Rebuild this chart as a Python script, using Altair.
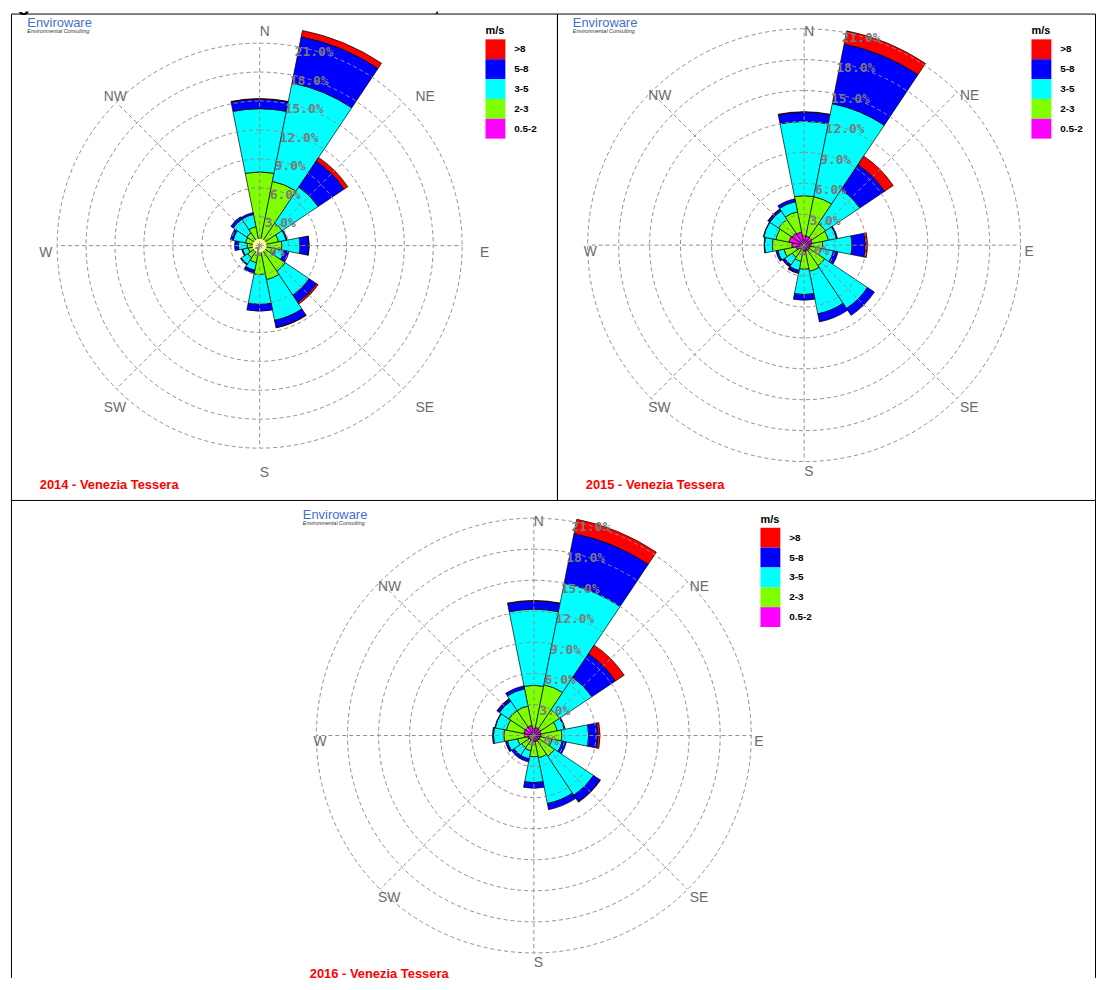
import math
import altair as alt
import pandas as pd

# ---------------- data ----------------
DIRECTIONS = ["N", "NNE", "NE", "ENE", "E", "ESE", "SE", "SSE",
              "S", "SSW", "SW", "WSW", "W", "WNW", "NW", "NNW"]
SPEED_BINS = ["0.5-2", "2-3", "3-5", "5-8", ">8"]          # inner -> outer
LEGEND_ORDER = [">8", "5-8", "3-5", "2-3", "0.5-2"]
BIN_COLORS = ["#ff0000", "#0000ff", "#00ffff", "#80ff00", "#ff00ff"]

# frequency (%) per direction, 2014
F2014_05_2 = [0.5, 0.5, 0.5, 0.5, 0.5, 0.4, 0.5, 0.5, 0.5, 0.4, 0.4, 0.4, 0.4, 0.4, 0.4, 0.4]
F2014_2_3 = [7.15, 6.3, 2.3, 1.5, 1.8, 1.2, 2.7, 3.1, 2.5, 1.4, 1.1, 0.8, 0.9, 1.1, 1.2, 1.6]
F2014_3_5 = [6.55, 10.4, 4.5, 0.8, 1.9, 1.0, 3.0, 4.3, 3.1, 0.8, 0.8, 0.6, 0.9, 1.3, 1.7, 1.3]
F2014_5_8 = [1.0, 4.9, 3.25, 0.1, 0.9, 0.5, 0.9, 0.75, 0.7, 0.3, 0.1, 0.1, 0.4, 0.3, 0.3, 0.2]
F2014_GT8 = [0.05, 0.65, 0.45, 0.0, 0.05, 0.0, 0.2, 0.05, 0.0, 0.0, 0.0, 0.0, 0.0, 0.0, 0.0, 0.0]

# 2015
F2015_05_2 = [0.9, 0.9, 0.9, 0.8, 0.7, 0.6, 0.6, 0.6, 0.6, 0.5, 0.5, 0.8, 1.2, 1.5, 1.4, 1.3]
F2015_2_3 = [3.9, 3.9, 1.6, 1.6, 1.1, 1.1, 1.8, 2.0, 1.75, 1.1, 0.9, 1.2, 1.9, 1.3, 1.6, 2.0]
F2015_3_5 = [7.2, 9.2, 4.0, 0.8, 2.85, 1.2, 5.0, 4.2, 2.45, 0.9, 0.9, 0.6, 0.75, 1.2, 1.0, 1.0]
F2015_5_8 = [0.9, 5.9, 2.9, 0.1, 1.3, 0.45, 0.8, 0.8, 0.55, 0.25, 0.2, 0.2, 0.05, 0.05, 0.2, 0.3]
F2015_GT8 = [0.05, 1.3, 1.0, 0.0, 0.2, 0.0, 0.0, 0.0, 0.0, 0.05, 0.05, 0.0, 0.0, 0.0, 0.05, 0.0]

# 2016
F2016_05_2 = [0.7, 0.8, 0.8, 0.7, 0.7, 0.6, 0.6, 0.6, 0.6, 0.5, 0.5, 0.6, 0.9, 1.0, 1.0, 1.0]
F2016_2_3 = [4.15, 4.2, 2.2, 1.6, 2.0, 1.2, 1.8, 1.6, 1.45, 1.0, 0.9, 1.0, 2.0, 1.7, 1.9, 1.9]
F2016_3_5 = [7.35, 10.0, 3.75, 0.7, 2.6, 1.0, 4.55, 4.5, 2.5, 0.8, 0.9, 1.0, 1.0, 1.1, 1.1, 1.7]
F2016_5_8 = [0.8, 4.9, 2.75, 0.1, 0.9, 0.4, 0.75, 0.6, 0.55, 0.3, 0.3, 0.2, 0.1, 0.05, 0.25, 0.3]
F2016_GT8 = [0.05, 1.4, 1.0, 0.0, 0.2, 0.0, 0.05, 0.0, 0.0, 0.0, 0.0, 0.0, 0.0, 0.0, 0.05, 0.0]

RINGS = [3, 6, 9, 12, 15, 18, 21]
COMPASS = ["N", "NE", "E", "SE", "S", "SW", "W", "NW"]
PANEL_LABELS = ["2014 - Venezia Tessera", "2015 - Venezia Tessera", "2016 - Venezia Tessera"]
LOGO_TEXT = "Enviroware"
LOGO_SUB = "Environmental Consulting"
TITLE_NUM = "Figura 5.1b"
TITLE_TEXT = "Rose dei venti anni 2014, 2015 e 2016 \u2013 Stazione Venezia Tessera"
LEGEND_TITLE = "m/s"
CENTER_LABEL = "1.0%"

# ---------------- helpers ----------------
SECTOR = 360 / len(DIRECTIONS)
COMPASS_DEG = [i * 360 / len(COMPASS) for i in range(len(COMPASS))]
RMAX = RINGS[-1]
GRID = "#8e8e8e"
LABEL_GRAY = "#7a7a7a"
FONT = "Liberation Sans"
W, H = 1096, 974


def frame(bins):
    rows = []
    for i, d in enumerate(DIRECTIONS):
        lo = 0.0
        for name, vals in zip(SPEED_BINS, bins):
            v = vals[i]
            if v > 0:
                rows.append({"dir": d, "idx": i, "bin": name, "freq": v,
                             "lo": round(lo, 4), "hi": round(lo + v, 4)})
            lo += v
    return pd.DataFrame(rows)


def one(**kw):
    return pd.DataFrame({k: [v] for k, v in kw.items()})


def rose(df, cx, cy, R, legend_xy, logo_xy, label_xy, label_text, calm):
    ts = alt.Scale(domain=[0, 360], range=[0, 2 * math.pi], nice=False)
    rs = alt.Scale(type="linear", domain=[0, RMAX], range=[0, R], nice=False)
    xs = alt.Scale(domain=[-RMAX, RMAX], range=[cx - R, cx + R], nice=False, zero=False)
    ys = alt.Scale(domain=[-RMAX, RMAX], range=[cy + R, cy - R], nice=False, zero=False)
    cx_enc = alt.X(datum=0, type="quantitative", scale=xs, axis=None)
    cy_enc = alt.Y(datum=0, type="quantitative", scale=ys, axis=None)

    legend = alt.Legend(
        title=LEGEND_TITLE, orient="none", legendX=legend_xy[0], legendY=legend_xy[1],
        symbolType="square", symbolSize=400, symbolStrokeWidth=0, rowPadding=0,
        padding=0, titlePadding=3, titleFont=FONT, titleFontSize=11,
        titleFontWeight="bold", titleColor="black", labelFont=FONT,
        labelFontSize=10, labelFontWeight="bold", labelColor="black", labelOffset=9,
    )

    arcs = alt.Chart(df).transform_calculate(
        t0=f"datum.idx*{SECTOR}-{SECTOR / 2}",
        t1=f"datum.idx*{SECTOR}+{SECTOR / 2}",
    ).mark_arc(stroke="black", strokeWidth=0.7).encode(
        x=cx_enc, y=cy_enc,
        theta=alt.Theta("t0:Q", scale=ts, stack=False),
        theta2="t1:Q",
        radius=alt.Radius("hi:Q", scale=rs, stack=False),
        radius2="lo:Q",
        color=alt.Color("bin:N", scale=alt.Scale(domain=LEGEND_ORDER, range=BIN_COLORS),
                        legend=legend),
        tooltip=["dir:N", "bin:N", "freq:Q"],
    )

    layers = [arcs]
    if calm:
        layers.append(
            alt.Chart(one(c="calm")).mark_arc(fill="#ffffa0", strokeWidth=0).encode(
                x=cx_enc, y=cy_enc,
                theta=alt.Theta(datum=0, type="quantitative", scale=ts),
                theta2=alt.Theta2(datum=360),
                radius=alt.value(7),
            )
        )

    rings = alt.Chart(pd.DataFrame({"ring": RINGS})).mark_arc(
        fillOpacity=0, stroke=GRID, strokeWidth=1, strokeDash=[4, 3]
    ).encode(
        x=cx_enc, y=cy_enc,
        theta=alt.Theta(datum=0, type="quantitative", scale=ts),
        theta2=alt.Theta2(datum=360),
        radius=alt.Radius("ring:Q", scale=rs, stack=False),
    )

    spokes = alt.Chart(pd.DataFrame({"deg": COMPASS_DEG})).transform_calculate(
        x0="0", y0="0",
        x1=f"{RMAX}*sin(datum.deg*PI/180)",
        y1=f"{RMAX}*cos(datum.deg*PI/180)",
    ).mark_rule(stroke=GRID, strokeWidth=1, strokeDash=[4, 3]).encode(
        x=alt.X("x0:Q", scale=xs, axis=None, stack=False),
        y=alt.Y("y0:Q", scale=ys, axis=None, stack=False),
        x2="x1:Q", y2="y1:Q",
    )

    ring_labels = alt.Chart(pd.DataFrame({"ring": RINGS})).transform_calculate(
        label="format(datum.ring, '.1f') + '%'"
    ).mark_text(align="left", baseline="top", font="DejaVu Sans Mono",
                fontWeight="bold", fontSize=13, color=LABEL_GRAY).encode(
        x=cx_enc, y=cy_enc,
        theta=alt.Theta(datum=10, type="quantitative", scale=ts),
        radius=alt.Radius("ring:Q", scale=rs, stack=False),
        text="label:N",
    )

    center_label = alt.Chart(one(t=CENTER_LABEL)).mark_text(
        align="left", baseline="top", font="DejaVu Sans Mono", fontWeight="bold",
        fontSize=13, color=LABEL_GRAY, dx=-6, dy=0
    ).encode(x=cx_enc, y=cy_enc, text="t:N")

    compass = alt.Chart(pd.DataFrame({"name": COMPASS, "deg": COMPASS_DEG})).mark_text(
        align="left", baseline="top", font=FONT, fontSize=14, color="#6c6c6c"
    ).encode(
        x=cx_enc, y=cy_enc,
        theta=alt.Theta("deg:Q", scale=ts, stack=False),
        radius=alt.value(222),
        text="name:N",
    )

    logo = alt.Chart(one(t=LOGO_TEXT)).mark_text(
        align="left", baseline="alphabetic", font=FONT, fontSize=13, color="#3f6fcf"
    ).encode(x=alt.value(logo_xy[0]), y=alt.value(logo_xy[1]), text="t:N")
    logo_sub = alt.Chart(one(t=LOGO_SUB)).mark_text(
        align="left", baseline="alphabetic", font=FONT, fontSize=5.5,
        fontStyle="italic", color="#333333"
    ).encode(x=alt.value(logo_xy[0]), y=alt.value(logo_xy[1] + 6.5), text="t:N")

    label = alt.Chart(one(t=label_text)).mark_text(
        align="left", baseline="alphabetic", font=FONT, fontSize=13,
        fontWeight="bold", color="#ff0000", clip=True
    ).encode(x=alt.value(label_xy[0]), y=alt.value(label_xy[1]), text="t:N")

    layers += [rings, spokes, ring_labels, center_label, compass, logo, logo_sub, label]
    return alt.layer(*layers)


def border(x1, x2, y1, y2):
    return alt.Chart(one(b=0)).mark_rect(
        fillOpacity=0, stroke="black", strokeWidth=1
    ).encode(x=alt.value(x1), x2=alt.value(x2), y=alt.value(y1), y2=alt.value(y2))


def vline(x, y1, y2):
    return alt.Chart(one(b=0)).mark_rule(stroke="black", strokeWidth=1).encode(
        x=alt.value(x), y=alt.value(y1), y2=alt.value(y2))


def title_piece(text, x):
    return alt.Chart(one(t=text)).mark_text(
        align="left", baseline="alphabetic", font=FONT, fontSize=20,
        fontWeight="bold", color="black", clip=True
    ).encode(x=alt.value(x), y=alt.value(-1), text="t:N")


df14 = frame([F2014_05_2, F2014_2_3, F2014_3_5, F2014_5_8, F2014_GT8])
df15 = frame([F2015_05_2, F2015_2_3, F2015_3_5, F2015_5_8, F2015_GT8])
df16 = frame([F2016_05_2, F2016_2_3, F2016_3_5, F2016_5_8, F2016_GT8])

r14 = rose(df14, 253.5, 235.8, 204, (481, 14), (19.5, 15.5), (32, 481), PANEL_LABELS[0], True)
r15 = rose(df15, 802.0, 235.3, 218, (1031, 14), (569, 15.5), (582, 481), PANEL_LABELS[1], False)
r16 = rose(df16, 529.7, 729.3, 219, (758, 506), (297, 511), (304, 974), PANEL_LABELS[2], False)

chart = alt.layer(
    border(3.5, 553.5, 2.5, 492.5),
    border(553.5, 1095.5, 2.5, 492.5),
    vline(3.5, 492.5, 973.5),
    vline(1095.5, 492.5, 973.5),
    title_piece(TITLE_NUM, -8),
    title_piece(TITLE_TEXT, 197),
    r14, r15, r16,
).resolve_scale(
    x="independent", y="independent", radius="independent", color="independent"
).resolve_legend(
    color="independent"
).properties(
    width=W, height=H, padding=0
).configure_view(strokeWidth=0)

chart.save("out.html", embed_options={"renderer": "svg", "actions": False})
